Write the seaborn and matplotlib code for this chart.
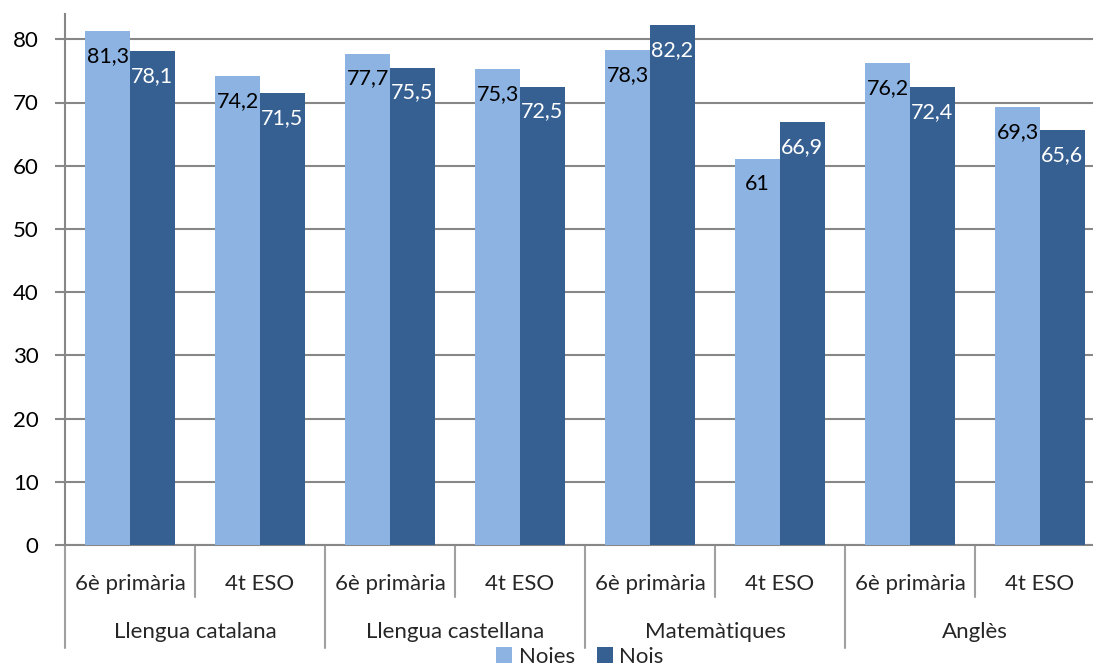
import numpy as np
import pandas as pd
import seaborn as sns
import matplotlib.pyplot as plt
from matplotlib import transforms

sns.set_style("white")
plt.rcParams['font.family'] = ['Lato', 'DejaVu Sans']

subjects = ['Llengua catalana', 'Llengua castellana', 'Matemàtiques', 'Anglès']
levels = ['6è primària', '4t ESO']
noies = [81.3, 74.2, 77.7, 75.3, 78.3, 61.0, 76.2, 69.3]
nois = [78.1, 71.5, 75.5, 72.5, 82.2, 66.9, 72.4, 65.6]
series = ['Noies', 'Nois']
colors = ['#8DB3E2', '#376092']

cats = [f'{s}|{l}' for s in subjects for l in levels]
df = pd.DataFrame({
    'cat': cats * 2,
    'val': noies + nois,
    'sexe': [series[0]] * len(cats) + [series[1]] * len(cats),
})

fig = plt.figure(figsize=(10.93, 6.68), dpi=100)
ax = fig.add_axes([65 / 1093, 123 / 668, 1040 / 1093, 531 / 668])

sns.barplot(data=df, x='cat', y='val', hue='sexe', palette=colors,
            width=0.69, gap=0, saturation=1, linewidth=0, ax=ax, legend=True, zorder=3)

ax.set_ylim(0, 84)
ax.set_xlim(-0.5, len(cats) - 0.5)
ax.set_yticks(np.arange(0, 81, 10))
ax.yaxis.grid(True, color='#878787', linewidth=1.5, zorder=0)
ax.set_axisbelow(True)
ax.tick_params(axis='y', labelsize=16, length=7, width=1.5, color='#878787',
               left=True, pad=12, labelcolor='black')
ax.set_xticks(range(len(cats)))
ax.set_xticklabels([c.split('|')[1] for c in cats], fontsize=16)
ax.tick_params(axis='x', length=0, pad=21)
ax.set_xlabel('')
ax.set_ylabel('')
for side in ['top', 'right']:
    ax.spines[side].set_visible(False)
for side in ['left', 'bottom']:
    ax.spines[side].set_color('#878787')
    ax.spines[side].set_linewidth(1.5)

# bar value labels
for cont, tc in zip(ax.containers, ['black', 'white']):
    ax.bar_label(cont, labels=[f'{v:.1f}'.replace('.', ',').replace(',0', '') for v in cont.datavalues],
                 padding=-25, color=tc, fontsize=15.5)

# category separators and group labels
trans = transforms.blended_transform_factory(ax.transData, ax.transAxes)
for i in range(len(cats) + 1):
    x = i - 0.5
    depth = 103 if i % 2 == 0 else 52
    ax.plot([x, x], [0, -depth / 531], transform=trans, color='#a0a0a0',
            linewidth=1.5, clip_on=False)
for j, s in enumerate(subjects):
    ax.annotate(s, xy=(2 * j + 0.5, 0), xycoords=trans, xytext=(0, -87),
                textcoords='offset pixels', ha='center', va='center', fontsize=16)

handles, labels = ax.get_legend_handles_labels()
ax.legend(handles, labels, loc='center', frameon=False, ncol=2, fontsize=16,
          handlelength=0.7, handleheight=0.7, handletextpad=0.3, columnspacing=1.0,
          borderpad=0)
leg = ax.get_legend()
leg.set_bbox_to_anchor((580 / 1093, 11 / 668), transform=fig.transFigure)

fig.savefig('out.png', dpi=100)
